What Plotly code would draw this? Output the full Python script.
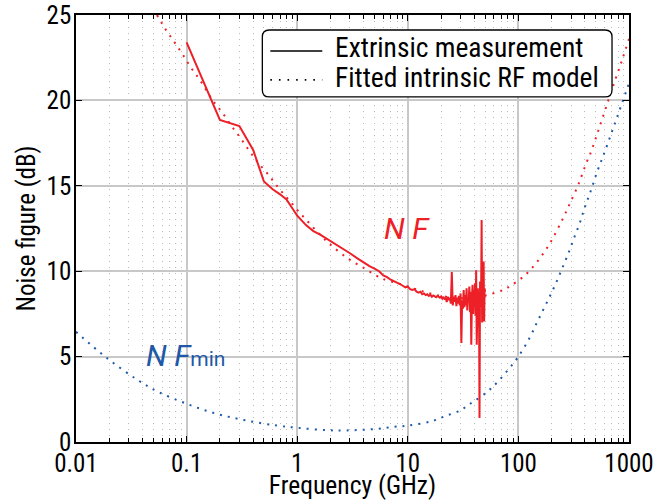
import plotly.graph_objects as go

# ---- data ----
meas_freq = [0.1, 0.2, 0.3, 0.4, 0.5, 0.6, 0.7, 0.8, 0.9, 1.0, 1.2, 1.4, 1.6, 1.8, 2.0,
             2.3, 2.6, 3.0, 3.5, 4.0, 4.5, 5.0, 5.5, 6.0, 6.5, 7.0, 7.5, 8.0, 8.5, 9.0,
             9.5, 10, 10.5, 11, 11.5, 12, 12.5, 13, 13.5, 14, 14.5, 15, 15.5, 16, 16.5,
             17, 17.5, 18, 18.5, 19, 19.5, 20, 20.5, 21, 21.5, 22, 22.5, 23, 23.5, 24,
             24.5, 25, 25.5, 26, 26.5, 27, 27.5, 28, 28.5, 29, 29.5, 30, 30.5, 31, 31.5,
             32, 32.5, 33, 33.5, 34, 34.5, 35, 35.5, 36, 36.5, 37, 37.5, 38, 38.5, 39,
             39.5, 40, 40.5, 41, 41.5, 42, 42.5, 43, 43.5, 44, 44.5, 45, 45.5, 46, 46.5,
             47, 47.5, 48, 48.5, 49, 49.5, 50]
meas_nf = [23.4, 18.86, 18.5, 17.1, 15.25, 14.8, 14.5, 14.2, 13.7, 13.25, 12.7, 12.35, 12.15, 11.95, 11.75,
           11.5, 11.3, 11.05, 10.75, 10.5, 10.3, 10.15, 10.0, 9.75, 9.65, 9.5, 9.42, 9.3, 9.25, 9.15,
           9.05, 9.1, 8.95, 8.9, 8.95, 8.8, 8.75, 8.8, 8.65, 8.7, 8.6, 8.65, 8.55, 8.62, 8.5,
           8.58, 8.55, 8.48, 8.55, 8.5, 8.45, 8.52, 8.4, 8.5, 8.35, 8.45, 8.2, 8.5, 8.3, 8.45,
           8.1, 9.95, 8.0, 8.5, 8.2, 8.6, 7.95, 8.45, 8.1, 8.55, 8.0, 8.7, 5.8, 8.3, 7.8,
           8.9, 7.9, 8.6, 8.0, 9.0, 7.7, 8.5, 8.2, 9.1, 7.6, 8.8, 5.7, 8.4, 9.2, 7.5,
           8.9, 8.0, 9.3, 7.4, 10.05, 5.7, 8.6, 9.0, 7.3, 8.8, 1.4, 9.4, 7.9, 8.6, 13.0,
           7.0, 9.6, 8.0, 10.57, 7.06, 9.0, 8.8]

model_freq = [0.054, 0.064, 0.077, 0.092, 0.11, 0.133, 0.172, 0.21, 0.253, 0.305, 0.368, 0.446,
              0.55, 0.68, 0.84, 1.03, 1.27, 1.6, 2.0, 2.9, 4.0, 5.2, 6.0, 8.0, 10, 14, 20, 30,
              40, 54, 74, 85, 111, 139, 169, 201, 252, 289, 351, 415, 444, 520, 620, 750, 870, 1000]
model_nf = [25.0, 24.2, 23.44, 22.7, 21.9, 21.16, 20.0, 19.29, 18.53, 17.82, 17.06, 16.33,
            15.64, 14.86, 14.18, 13.5, 12.85, 12.15, 11.55, 10.73, 10.19, 9.74, 9.54, 9.3, 9.1, 8.8, 8.55, 8.42,
            8.45, 8.63, 8.92, 9.15, 9.68, 10.34, 11.06, 11.84, 13.07, 13.9, 15.13, 16.4, 16.83, 18.1, 19.6, 21.2, 22.4, 23.6]

nfmin_freq = [0.01, 0.0185, 0.0357, 0.054, 0.099, 0.182, 0.34, 0.656, 1.01, 1.86, 2.82, 5.26,
              7.5, 10.1, 16.5, 22.5, 30, 34.8, 39.8, 51.8, 58.4, 65.9, 81, 99, 127, 146, 168,
              194, 222, 252, 285, 320, 360, 399, 444, 518, 612, 1000]
nfmin_nf = [6.45, 4.98, 3.65, 2.97, 2.25, 1.67, 1.27, 0.96, 0.83, 0.69, 0.68, 0.77,
            0.89, 0.96, 1.22, 1.55, 1.85, 2.15, 2.39, 2.91, 3.23, 3.56, 4.24, 4.96, 6.13, 6.95, 7.75,
            8.58, 9.4, 10.25, 11.1, 11.98, 12.85, 13.75, 14.57, 15.86, 17.1, 21.0]

x_tickvals = [0.01, 0.1, 1, 10, 100, 1000]
x_ticktext = ["0.01", "0.1", "1", "10", "100", "1000"]
y_tickvals = [0, 5, 10, 15, 20, 25]
legend_labels = ["Extrinsic measurement", "Fitted intrinsic RF model"]

RED = "rgb(237,32,40)"
BLUE = "rgb(30,88,166)"
FONT = "Roboto Condensed, DejaVu Sans Condensed, sans-serif"

# plot-area geometry in pixels (style only)
W, H = 661, 500
L, R, T, B = 75.5, 32, 15, 57.5
PW, PH = W - L - R, H - T - B


def px(x):
    return (x - L) / PW


def py(y):
    return (H - B - y) / PH


fig = go.Figure()
fig.add_trace(go.Scatter(x=model_freq, y=model_nf, mode="lines", line_shape="spline",
                         line=dict(color=RED, width=2, dash="2px,6px"), showlegend=False,
                         name=legend_labels[1]))
fig.add_trace(go.Scatter(x=nfmin_freq, y=nfmin_nf, mode="lines", line_shape="spline",
                         line=dict(color=BLUE, width=2, dash="2px,6px"), showlegend=False))
fig.add_trace(go.Scatter(x=meas_freq, y=meas_nf, mode="lines",
                         line=dict(color=RED, width=2), showlegend=False,
                         name=legend_labels[0]))

minor_vals = [m * 10 ** e for e in range(-2, 3) for m in range(2, 10)]

fig.update_xaxes(type="log", range=[-2, 3], tickmode="array", tickvals=x_tickvals,
                 ticktext=x_ticktext, ticks="inside", ticklen=6, tickwidth=1.2, tickcolor="black",
                 showline=True, linecolor="black", linewidth=1.5, mirror="allticks",
                 showgrid=True, gridcolor="rgb(200,200,200)", gridwidth=1.6,
                 minor=dict(tickmode="array", tickvals=minor_vals, ticks="inside", ticklen=4,
                            tickcolor="black", showgrid=True, gridcolor="rgb(185,185,185)",
                            griddash="1px,5px", gridwidth=1),
                 tickfont=dict(size=25, color="black", family=FONT), ticklabelstandoff=-2,
                 title=dict(text="Frequency (GHz)", font=dict(size=25.5, color="black", family=FONT), standoff=5),
                 zeroline=False, automargin=False)
fig.update_yaxes(range=[0, 25], tickmode="array", tickvals=y_tickvals,
                 ticks="inside", ticklen=6, tickwidth=1.2, tickcolor="black",
                 showline=True, linecolor="black", linewidth=1.5, mirror="allticks",
                 showgrid=True, gridcolor="rgb(200,200,200)", gridwidth=1.6,
                 tickfont=dict(size=25, color="black", family=FONT), ticklabelstandoff=-2,
                 title=dict(text="Noise figure (dB)", font=dict(size=25, color="black", family=FONT), standoff=4),
                 zeroline=False, automargin=False)

# curve labels
fig.add_annotation(xref="paper", yref="paper", x=px(406.5), y=py(229), text="N F",
                   xanchor="center", yanchor="middle", showarrow=False,
                   font=dict(size=30, color=RED, family="Roboto, sans-serif", style="italic"))
fig.add_annotation(xref="paper", yref="paper", x=px(185), y=py(356),
                   xanchor="center", yanchor="middle",
                   text="<i>N F</i><span style='font-size:21px'>min</span>",
                   showarrow=False,
                   font=dict(size=30, color=BLUE, family="Roboto, sans-serif"))

# legend box (rounded) drawn as shapes + real text
bx0, bx1, by0, by1, rr = 262, 612, 30, 97, 7
path = (f"M {px(bx0 + rr)} {py(by0)} L {px(bx1 - rr)} {py(by0)} "
        f"Q {px(bx1)} {py(by0)} {px(bx1)} {py(by0 + rr)} L {px(bx1)} {py(by1 - rr)} "
        f"Q {px(bx1)} {py(by1)} {px(bx1 - rr)} {py(by1)} L {px(bx0 + rr)} {py(by1)} "
        f"Q {px(bx0)} {py(by1)} {px(bx0)} {py(by1 - rr)} L {px(bx0)} {py(by0 + rr)} "
        f"Q {px(bx0)} {py(by0)} {px(bx0 + rr)} {py(by0)} Z")
fig.add_shape(type="path", xref="paper", yref="paper", path=path,
              line=dict(color="black", width=1.3), fillcolor="white", layer="above")
fig.add_shape(type="line", xref="paper", yref="paper", x0=px(270), x1=px(322), y0=py(51), y1=py(51),
              line=dict(color="black", width=1.5), layer="above")
fig.add_shape(type="line", xref="paper", yref="paper", x0=px(270), x1=px(322), y0=py(80), y1=py(80),
              line=dict(color="black", width=1.6, dash="1.6px,7px"), layer="above")
fig.add_annotation(xref="paper", yref="paper", x=px(333), y=py(48), xanchor="left", yanchor="middle",
                   text=legend_labels[0], showarrow=False,
                   font=dict(size=27.5, color="black", family=FONT))
fig.add_annotation(xref="paper", yref="paper", x=px(333), y=py(77.5), xanchor="left", yanchor="middle",
                   text=legend_labels[1], showarrow=False,
                   font=dict(size=27.5, color="black", family=FONT))

fig.update_layout(
    width=W, height=H,
    margin=dict(l=L, r=R, t=T, b=B),
    paper_bgcolor="white", plot_bgcolor="white",
    font=dict(family=FONT, color="black"),
    showlegend=False,
)

fig.write_html("out.html", config={"displayModeBar": False},
               post_script="document.body.style.margin='0px';document.body.style.overflow='hidden';")
